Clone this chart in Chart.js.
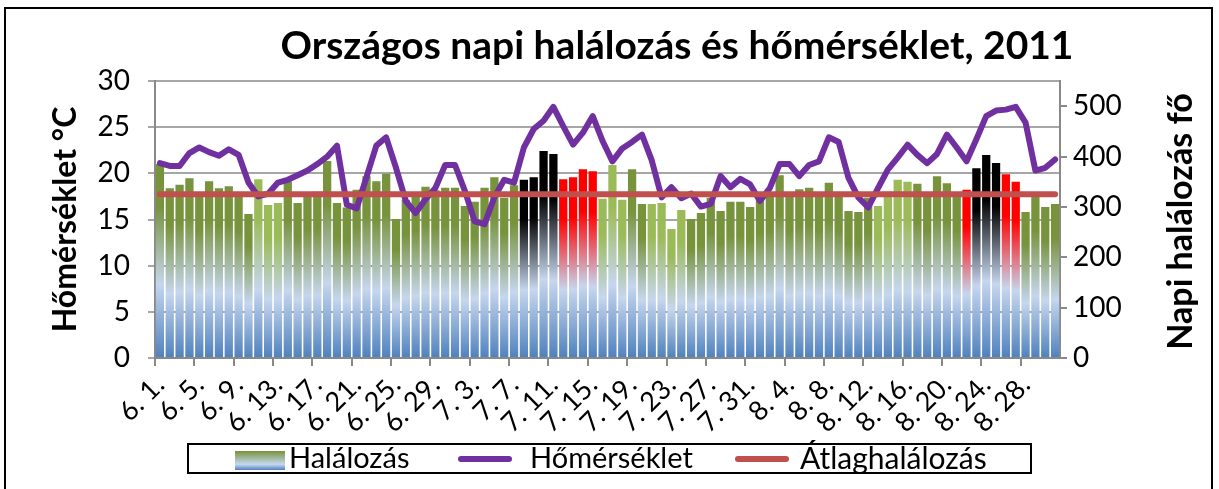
<!DOCTYPE html>
<html lang="hu">
<head>
<meta charset="utf-8">
<title>Országos napi halálozás és hőmérséklet, 2011</title>
<script src="https://cdn.jsdelivr.net/npm/chart.js@4.4.1/dist/chart.umd.min.js"></script>
<style>
  body { margin: 0; background: #fff; }
  #wrap { position: relative; width: 1219px; height: 489px; overflow: hidden; background: #fff; font-family: Lato, 'Open Sans', sans-serif; color: #000; }
  #frame { position: absolute; left: 4px; top: 7px; width: 1209px; height: 540px; border: 2px solid #000; box-sizing: border-box; }
  #chart { position: absolute; left: 0; top: 0; }
  #title { position: absolute; left: 0; top: 21px; width: 1354px; text-align: center; font-weight: bold; font-size: 39px; white-space: nowrap; }
  #legend { position: absolute; left: 187px; top: 443px; width: 845px; height: 31px; border: 2px solid #000; box-sizing: border-box; background: #fff; font-size: 29px; }
  #legend span { position: absolute; }
  #legend .txt { top: -5px; line-height: 34px; white-space: nowrap; }
  #legend .sw-bar { left: 46px; top: 6px; width: 50px; height: 19px; background: linear-gradient(#77933C, #C6D9F1 70%, #4F81BD); }
  #legend .sw-line { top: 11px; width: 54px; height: 6px; border-radius: 3px; }
</style>
</head>
<body>
<div id="wrap">
  <canvas id="chart" width="1219" height="489"></canvas>
  <div id="frame"></div>
  <div id="title">Országos napi halálozás és hőmérséklet, 2011</div>
  <div id="legend">
    <span class="sw-bar"></span>
    <span class="txt" style="left:100px">Halálozás</span>
    <span class="sw-line" style="left:269px; background:#7030A0"></span>
    <span class="txt" style="left:341px">Hőmérséklet</span>
    <span class="sw-line" style="left:546px; background:#C0504D"></span>
    <span class="txt" style="left:611px; font-size:30px">Átlaghalálozás</span>
  </div>
</div>
<script>
// napok: 2011. június 1. - augusztus 31.
const days = [
  '6. 1.', '6. 2.', '6. 3.', '6. 4.', '6. 5.', '6. 6.', '6. 7.', '6. 8.', '6. 9.', '6. 10.',
  '6. 11.', '6. 12.', '6. 13.', '6. 14.', '6. 15.', '6. 16.', '6. 17.', '6. 18.', '6. 19.', '6. 20.',
  '6. 21.', '6. 22.', '6. 23.', '6. 24.', '6. 25.', '6. 26.', '6. 27.', '6. 28.', '6. 29.', '6. 30.',
  '7. 1.', '7. 2.', '7. 3.', '7. 4.', '7. 5.', '7. 6.', '7. 7.', '7. 8.', '7. 9.', '7. 10.',
  '7. 11.', '7. 12.', '7. 13.', '7. 14.', '7. 15.', '7. 16.', '7. 17.', '7. 18.', '7. 19.', '7. 20.',
  '7. 21.', '7. 22.', '7. 23.', '7. 24.', '7. 25.', '7. 26.', '7. 27.', '7. 28.', '7. 29.', '7. 30.',
  '7. 31.', '8. 1.', '8. 2.', '8. 3.', '8. 4.', '8. 5.', '8. 6.', '8. 7.', '8. 8.', '8. 9.',
  '8. 10.', '8. 11.', '8. 12.', '8. 13.', '8. 14.', '8. 15.', '8. 16.', '8. 17.', '8. 18.', '8. 19.',
  '8. 20.', '8. 21.', '8. 22.', '8. 23.', '8. 24.', '8. 25.', '8. 26.', '8. 27.', '8. 28.', '8. 29.',
  '8. 30.', '8. 31.'
];

// napi halálozás (fő)
const deaths = [
  385, 337, 344, 357, 327, 351, 337, 341, 324, 286,
  355, 304, 308, 351, 308, 327, 330, 391, 308, 299,
  334, 361, 351, 366, 276, 314, 324, 340, 333, 338,
  338, 302, 310, 338, 359, 318, 343, 354, 359, 411,
  405, 355, 359, 375, 371, 316, 383, 314, 375, 306,
  306, 308, 256, 294, 276, 288, 318, 292, 310, 310,
  300, 318, 325, 363, 325, 335, 338, 325, 348, 325,
  292, 290, 318, 302, 330, 354, 350, 346, 325, 361,
  347, 325, 334, 377, 403, 387, 365, 350, 290, 325,
  300, 306
];

// napi középhőmérséklet (°C)
const temps = [
  21.1, 20.8, 20.8, 22.2, 22.8, 22.3, 21.9, 22.6, 22.0, 19.0,
  17.5, 17.8, 19.0, 19.3, 19.8, 20.3, 21.0, 21.8, 23.0, 16.6,
  16.2, 19.6, 23.0, 23.9, 20.6, 17.0, 15.7, 17.2, 18.4, 20.9,
  20.9, 18.1, 14.8, 14.5, 17.4, 19.3, 19.0, 22.8, 24.8, 25.7,
  27.2, 25.1, 23.1, 24.4, 26.2, 23.5, 21.3, 22.7, 23.4, 24.2,
  21.4, 17.4, 18.5, 17.3, 17.8, 16.4, 16.7, 19.7, 18.5, 19.4,
  18.8, 17.0, 18.4, 21.0, 21.0, 19.7, 20.9, 21.3, 23.9, 23.4,
  19.5, 17.4, 16.3, 18.4, 20.4, 21.7, 23.1, 22.0, 21.1, 22.1,
  24.2, 22.8, 21.3, 23.7, 26.2, 26.8, 26.9, 27.2, 25.5, 20.3,
  20.6, 21.5
];

// napok csoportja: n = átlagos, w = világos oszlop, h = hőségriasztás, a = utána
const dayType = [
  'n', 'n', 'n', 'n', 'n', 'n', 'n', 'n', 'n', 'n',
  'w', 'w', 'w', 'n', 'n', 'n', 'n', 'n', 'n', 'n',
  'n', 'n', 'n', 'n', 'n', 'n', 'n', 'n', 'n', 'n',
  'n', 'n', 'n', 'n', 'n', 'n', 'n', 'h', 'h', 'h',
  'h', 'a', 'a', 'a', 'a', 'w', 'w', 'w', 'n', 'n',
  'w', 'w', 'w', 'w', 'n', 'n', 'n', 'n', 'n', 'n',
  'n', 'n', 'n', 'n', 'n', 'n', 'n', 'n', 'n', 'n',
  'n', 'n', 'n', 'w', 'w', 'w', 'w', 'n', 'n', 'n',
  'n', 'n', 'a', 'h', 'h', 'h', 'a', 'a', 'n', 'n',
  'n', 'n'
];

const avgDeaths = 325;

// jobb tengely feliratai
const deathTicks = [0, 100, 200, 300, 400, 500];

const topColors = { n: '#77933C', w: '#9BBB59', h: '#000000', a: '#FF0000' };

function barFill(ctx) {
  const top = topColors[dayType[ctx.dataIndex]] || topColors.n;
  const chart = ctx.chart;
  const scale = chart.scales.y1;
  if (!chart.chartArea || !scale || ctx.type !== 'data') return top;
  const y0 = scale.getPixelForValue(ctx.raw);
  const y1 = scale.getPixelForValue(0);
  if (!isFinite(y0) || !isFinite(y1) || y1 <= y0) return top;
  const g = chart.ctx.createLinearGradient(0, y0, 0, y1);
  g.addColorStop(0, top);
  g.addColorStop(0.22, top);
  g.addColorStop(0.62, '#C6D6EE');
  g.addColorStop(1, '#4F81BD');
  return g;
}

// jobb oldali tengelycím alulról felfelé
const rightTitle = {
  id: 'rightTitle',
  afterDraw(chart) {
    const c = chart.ctx;
    const area = chart.chartArea;
    c.save();
    c.translate(1181, (area.top + area.bottom) / 2 + 2);
    c.rotate(-Math.PI / 2);
    c.font = 'bold 34px Lato';
    c.fillStyle = '#000';
    c.textAlign = 'center';
    c.textBaseline = 'middle';
    c.fillText('Napi halálozás fő', 0, 0);
    c.restore();
  }
};

const axisGrey = '#898989';

new Chart(document.getElementById('chart'), {
  data: {
    labels: days,
    datasets: [
      {
        type: 'bar',
        label: 'Halálozás',
        data: deaths,
        yAxisID: 'y1',
        order: 3,
        backgroundColor: barFill,
        barPercentage: 0.84,
        categoryPercentage: 1
      },
      {
        type: 'line',
        label: 'Hőmérséklet',
        data: temps,
        yAxisID: 'y',
        order: 2,
        borderColor: '#7030A0',
        borderWidth: 6,
        borderJoinStyle: 'round',
        borderCapStyle: 'round',
        pointRadius: 0,
        tension: 0
      },
      {
        type: 'line',
        label: 'Átlaghalálozás',
        data: days.map(() => avgDeaths),
        yAxisID: 'y1',
        order: 1,
        borderColor: '#C0504D',
        borderWidth: 6,
        borderCapStyle: 'round',
        pointRadius: 0
      }
    ]
  },
  options: {
    responsive: false,
    animation: false,
    layout: { padding: { left: 0, right: 0, top: 81, bottom: 46 } },
    plugins: {
      legend: { display: false },
      tooltip: { enabled: false },
      title: { display: false }
    },
    scales: {
      x: {
        offset: true,
        afterFit: (s) => { s.height = 85; },
        grid: {
          offset: true,
          drawOnChartArea: false,
          tickLength: 8,
          lineWidth: 2,
          color: (ctx) => (ctx.index % 4 === 0 ? axisGrey : 'rgba(0,0,0,0)')
        },
        border: { color: axisGrey, width: 2 },
        ticks: {
          autoSkip: false,
          maxRotation: 45,
          minRotation: 45,
          padding: 3,
          color: '#000',
          font: { family: 'Lato', size: 27 },
          callback: (v, i) => (i % 4 === 0 ? days[i] : '')
        }
      },
      y: {
        position: 'left',
        min: 0,
        max: 30,
        afterFit: (s) => { s.width = 155; },
        grid: { color: '#A6A6A6', lineWidth: 2, tickLength: 7 },
        border: { color: axisGrey, width: 2 },
        ticks: { stepSize: 5, padding: 18, color: '#000', font: { family: 'Lato', size: 28 } },
        title: {
          display: true,
          text: 'Hőmérséklet °C',
          color: '#000',
          font: { family: 'Lato', size: 32, weight: 'bold' },
          padding: { top: 46, bottom: 0 }
        }
      },
      y1: {
        position: 'right',
        min: 0,
        max: 550,
        afterFit: (s) => { s.width = 159; },
        afterBuildTicks: (s) => { s.ticks = deathTicks.map(v => ({ value: v })); },
        grid: { drawOnChartArea: false, color: axisGrey, lineWidth: 2, tickLength: 7 },
        border: { color: axisGrey, width: 2 },
        ticks: { padding: 6, color: '#000', font: { family: 'Lato', size: 28 } }
      }
    }
  },
  plugins: [rightTitle]
});
</script>
</body>
</html>
